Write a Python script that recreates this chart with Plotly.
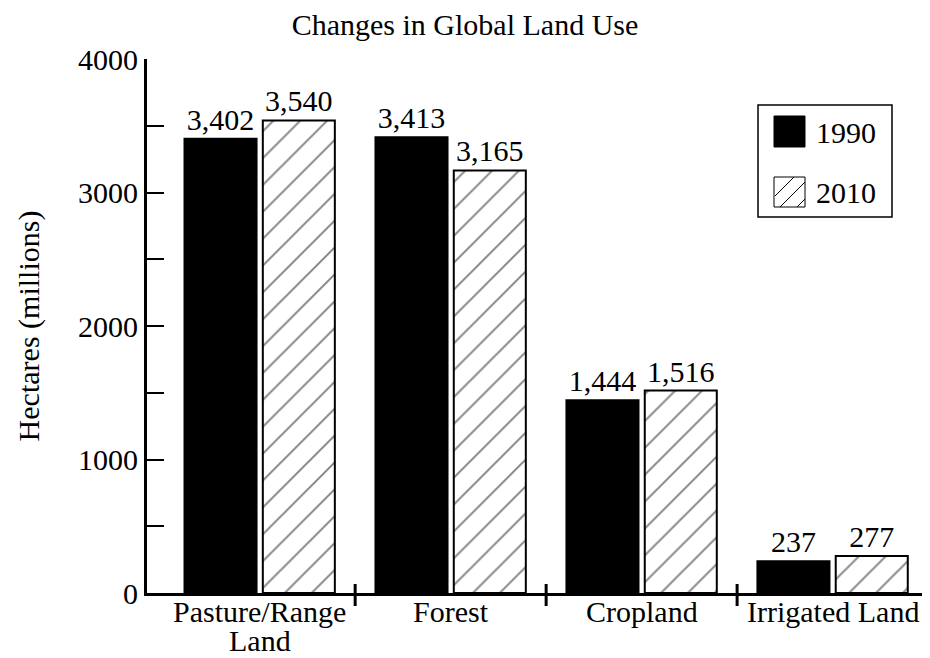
import plotly.graph_objects as go

# data
categories = ["Pasture/Range<br>Land", "Forest", "Cropland", "Irrigated Land"]
hectares_1990 = [3402, 3413, 1444, 237]
hectares_2010 = [3540, 3165, 1516, 277]
years = ["1990", "2010"]

FONT = "Liberation Serif"
FS = 30
O = 8  # page body margin, figure starts 8px in
W, H = 930 - O, 658 - O
L, R, T, B = 147 - O, 0, 59 - O, 65

fig = go.Figure()
fig.add_trace(go.Bar(
    x=categories, y=hectares_1990, name=years[0],
    marker=dict(color="black", line=dict(color="black", width=2)),
    texttemplate="%{y:,.0f}", textposition="outside", cliponaxis=False,
    textfont=dict(size=FS),
))
fig.add_trace(go.Bar(
    x=categories, y=hectares_2010, name=years[1],
    marker=dict(color="white", line=dict(color="black", width=2),
                pattern=dict(shape="/", fgcolor="black", bgcolor="white",
                             size=19, solidity=0.1)),
    texttemplate="%{y:,.0f}", textposition="outside", cliponaxis=False,
    textfont=dict(size=FS),
))


# page pixel -> paper coords
def px_x(p):
    return (p - O - L) / (W - L - R)


def px_y(p):
    return (H - B - (p - O)) / (H - T - B)


# crossing ticks between categories on the x axis
for b in [0.5, 1.5, 2.5, 3.5]:
    fig.add_shape(type="line", xref="x", yref="paper", x0=b, x1=b,
                  y0=px_y(606), y1=px_y(584), line=dict(color="black", width=3))

# category labels under the axis (two-line label kept tight like the original)
for cat in categories:
    for i, line in enumerate(cat.split("<br>")):
        fig.add_annotation(text=line, xref="x", yref="paper", x=cat,
                           y=px_y(611 + 29 * i), yanchor="middle", xanchor="center",
                           showarrow=False, font=dict(family=FONT, size=FS, color="black"))

# legend box
fig.add_shape(type="rect", xref="paper", yref="paper",
              x0=px_x(758), x1=px_x(892), y0=px_y(217), y1=px_y(105),
              line=dict(color="black", width=1.5), fillcolor="white")
fig.add_shape(type="rect", xref="paper", yref="paper",
              x0=px_x(774), x1=px_x(805), y0=px_y(147), y1=px_y(116),
              line=dict(color="black", width=1), fillcolor="black")
fig.add_shape(type="rect", xref="paper", yref="paper",
              x0=px_x(774), x1=px_x(805), y0=px_y(207), y1=px_y(177),
              line=dict(color="black", width=1), fillcolor="white")
for a, b in [((775, 196), (794, 177)), ((780, 207), (805, 182)), ((797, 207), (805, 199))]:
    fig.add_shape(type="line", xref="paper", yref="paper",
                  x0=px_x(a[0]), y0=px_y(a[1]), x1=px_x(b[0]), y1=px_y(b[1]),
                  line=dict(color="black", width=1))
for label, yc in zip(years, [132, 192]):
    fig.add_annotation(text=label, xref="paper", yref="paper",
                       x=px_x(814), y=px_y(yc), xanchor="left", yanchor="middle",
                       showarrow=False, font=dict(family=FONT, size=FS, color="black"))

fig.update_layout(
    width=W, height=H,
    margin=dict(l=L, r=R, t=T, b=B),
    paper_bgcolor="white", plot_bgcolor="white",
    font=dict(family=FONT, size=FS, color="black"),
    title=dict(text="Changes in Global Land Use", x=(465 - O) / W, xref="container",
               xanchor="center", y=1 - 6 / H, yref="container", yanchor="top",
               font=dict(family=FONT, size=FS, color="black")),
    barmode="group", bargap=0.18, bargroupgap=0.08,
    showlegend=False,
)

fig.update_xaxes(
    range=[-0.59, 3.51], showline=True, linecolor="black", linewidth=3,
    ticks="", showticklabels=False, showgrid=False, zeroline=False,
)
fig.update_yaxes(
    range=[0, 4000], tickvals=[0, 1000, 2000, 3000, 4000],
    showline=True, linecolor="black", linewidth=3,
    ticks="inside", ticklen=17, tickwidth=2, tickcolor="black",
    minor=dict(dtick=500, ticks="inside", ticklen=17, tickwidth=2, tickcolor="black"),
    showgrid=False, zeroline=False,
    title=dict(text="Hectares (millions)", standoff=30, font=dict(size=FS)),
)

fig.write_html("out.html")
